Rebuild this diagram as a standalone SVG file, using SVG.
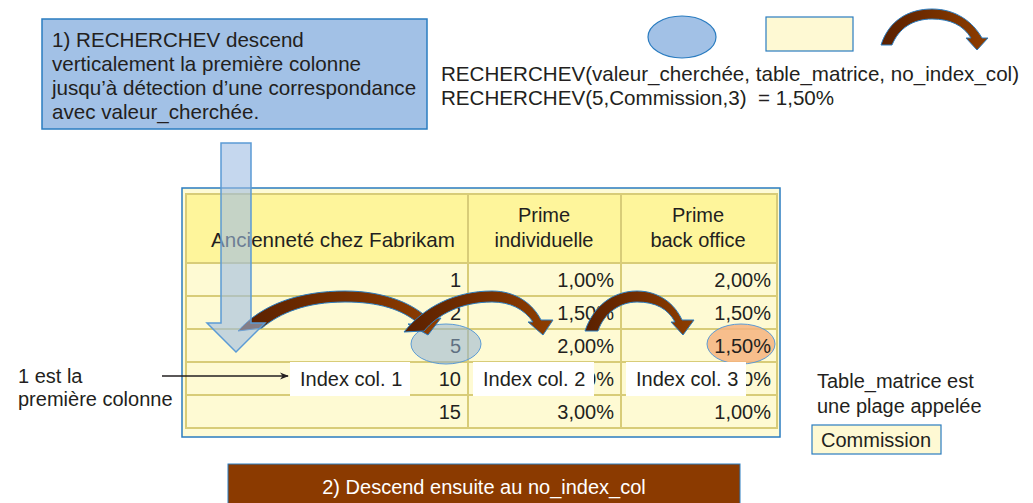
<svg xmlns="http://www.w3.org/2000/svg" width="1033" height="503" viewBox="0 0 1033 503">
<defs>
<linearGradient id="brown" x1="0" y1="0" x2="1" y2="0">
<stop offset="0" stop-color="#5a2000"/>
<stop offset="1" stop-color="#8e3d00"/>
</linearGradient>
<marker id="ah" viewBox="0 0 10 10" refX="9" refY="5" markerWidth="9" markerHeight="9" orient="auto" markerUnits="userSpaceOnUse">
<path d="M0,1 L10,5 L0,9 L3,5 Z" fill="#231f20"/>
</marker>
<clipPath id="clip2"><rect x="594" y="362" width="27" height="34"/></clipPath>
<clipPath id="clip3"><rect x="746" y="362" width="31" height="34"/></clipPath>
</defs>
<style>
text{font-family:"Liberation Sans",Arial,sans-serif;fill:#231f20;font-size:20px}
.big{font-size:20.6px}
.c{text-anchor:middle}
.r{text-anchor:end}
.grid{stroke:#d8cc78;stroke-width:2;fill:none}
.curve{fill:url(#brown);stroke:#2a7cc0;stroke-width:1}
.lbl{fill:#ffffff}
</style>
<rect width="1033" height="503" fill="#ffffff"/>

<g id="note1">
<rect x="42" y="19" width="385" height="110" fill="#a2c1e6" stroke="#2a7cc0" stroke-width="1.5"/>
<text class="big" x="52" y="47">1) RECHERCHEV descend</text>
<text class="big" x="52" y="71">verticalement la première colonne</text>
<text class="big" x="52" y="95">jusqu’à détection d’une correspondance</text>
<text class="big" x="52" y="119">avec valeur_cherchée.</text>
</g>

<g id="legend">
<ellipse cx="682" cy="37" rx="34" ry="21" fill="#a2c1e6" stroke="#2a7cc0" stroke-width="1.2"/>
<rect x="766" y="17" width="87" height="34" fill="#fef9d3" stroke="#2a7cc0" stroke-width="1.2"/>
<path class="curve" d="M881,45 C889,20 909,9 932,9 C956,9 973,22 982,38 L988,38 L977,50 L966,38 L971,38 C963,25 950,19 932,19 C913,19 899,28 892,45 Z"/>
</g>

<g id="formula">
<text class="big" x="441" y="81">RECHERCHEV(valeur_cherchée, table_matrice, no_index_col)</text>
<text class="big" x="441" y="105" xml:space="preserve">RECHERCHEV(5,Commission,3)  = 1,50%</text>
</g>

<g id="table">
<rect x="182" y="188" width="598" height="249" fill="#fefbd6" stroke="#2a7cc0" stroke-width="1.5"/>
<rect x="186" y="194" width="591" height="69" fill="#fef59b"/>
<rect x="186" y="263" width="591" height="165" fill="#fefad3"/>
<path class="grid" d="M186,194 H777 V428 H186 Z M186,263 H777 M186,296 H777 M186,329 H777 M186,362 H777 M186,395 H777 M468,194 V428 M621,194 V428"/>
<text class="c big" x="333" y="247">Ancienneté chez Fabrikam</text>
<text class="c" x="544" y="222">Prime</text>
<text class="c" x="544" y="247">individuelle</text>
<text class="c" x="698" y="222">Prime</text>
<text class="c" x="698" y="247">back office</text>
<text class="r" x="461" y="287">1</text>
<text class="r" x="461" y="320">2</text>
<text class="r" x="461" y="353">5</text>
<text class="r" x="461" y="386">10</text>
<text class="r" x="461" y="419">15</text>
<text class="r" x="614" y="287">1,00%</text>
<text class="r" x="614" y="320">1,50%</text>
<text class="r" x="614" y="353">2,00%</text>
<text class="r" x="614" y="419">3,00%</text>
<text class="r" x="771" y="287">2,00%</text>
<text class="r" x="771" y="320">1,50%</text>
<text class="r" x="771" y="419">1,00%</text>
<g clip-path="url(#clip2)"><text class="r" x="614" y="386">2,50%</text></g>
<g clip-path="url(#clip3)"><text class="r" x="771" y="386">2,00%</text></g>
</g>

<g id="match-ellipses">
<ellipse cx="446" cy="344" rx="35" ry="20" fill="#93b3d3" fill-opacity="0.55" stroke="#5b9bd5" stroke-width="1"/>
<ellipse cx="741" cy="344" rx="34" ry="20" fill="#f6b37f" fill-opacity="0.85" stroke="#5b9bd5" stroke-width="1"/>
<text class="r" x="771" y="353">1,50%</text>
</g>

<g id="connectors">
<path class="curve" d="M238,331 C262,304 300,291 345,291 C385,291 414,304 430,320 L441,318 L428,335 L408,324 L419,324 C402,309 378,302 345,302 C306,302 280,313 262,328 Z"/>
<path class="curve" d="M404,332 C424,307 455,291 492,291 C516,291 533,304 541,320 L553,320 L543,335 L528,322 L533,322 C524,309 510,302 492,302 C462,302 438,314 424,331 Z"/>
<path class="curve" d="M585,331 C593,307 612,291 637,291 C659,291 675,304 682,320 L694,320 L683,335 L671,322 L675,322 C668,309 656,302 637,302 C620,302 604,313 598,331 Z"/>
<line x1="162" y1="376" x2="288" y2="376" stroke="#231f20" stroke-width="1.5" marker-end="url(#ah)"/>
</g>

<g id="down-arrow">
<polygon points="221,143 251,143 251,323 265,323 236,352 207,323 221,323" fill="#9fbde3" fill-opacity="0.6" stroke="#5b9bd5" stroke-width="1.5"/>
</g>

<g id="index-labels">
<rect class="lbl" x="290" y="362" width="120" height="34"/>
<text x="300" y="386">Index col. 1</text>
<rect class="lbl" x="473" y="362" width="121" height="34"/>
<text x="483" y="386">Index col. 2</text>
<rect class="lbl" x="626" y="362" width="120" height="34"/>
<text x="636" y="386">Index col. 3</text>
</g>

<g id="note-first-col">
<text x="18" y="383">1 est la</text>
<text x="18" y="406">première colonne</text>
</g>

<g id="note-commission">
<text x="817" y="388">Table_matrice est</text>
<text x="817" y="413">une plage appelée</text>
<rect x="812" y="425" width="129" height="29" fill="#fef9d3" stroke="#2a7cc0" stroke-width="1.2"/>
<text x="821" y="447">Commission</text>
</g>

<g id="note2">
<rect x="228" y="464" width="512" height="42" fill="#8b3a00" stroke="#2a7cc0" stroke-width="1"/>
<text class="c" x="484" y="494" style="fill:#ffffff">2) Descend ensuite au no_index_col</text>
</g>
</svg>
